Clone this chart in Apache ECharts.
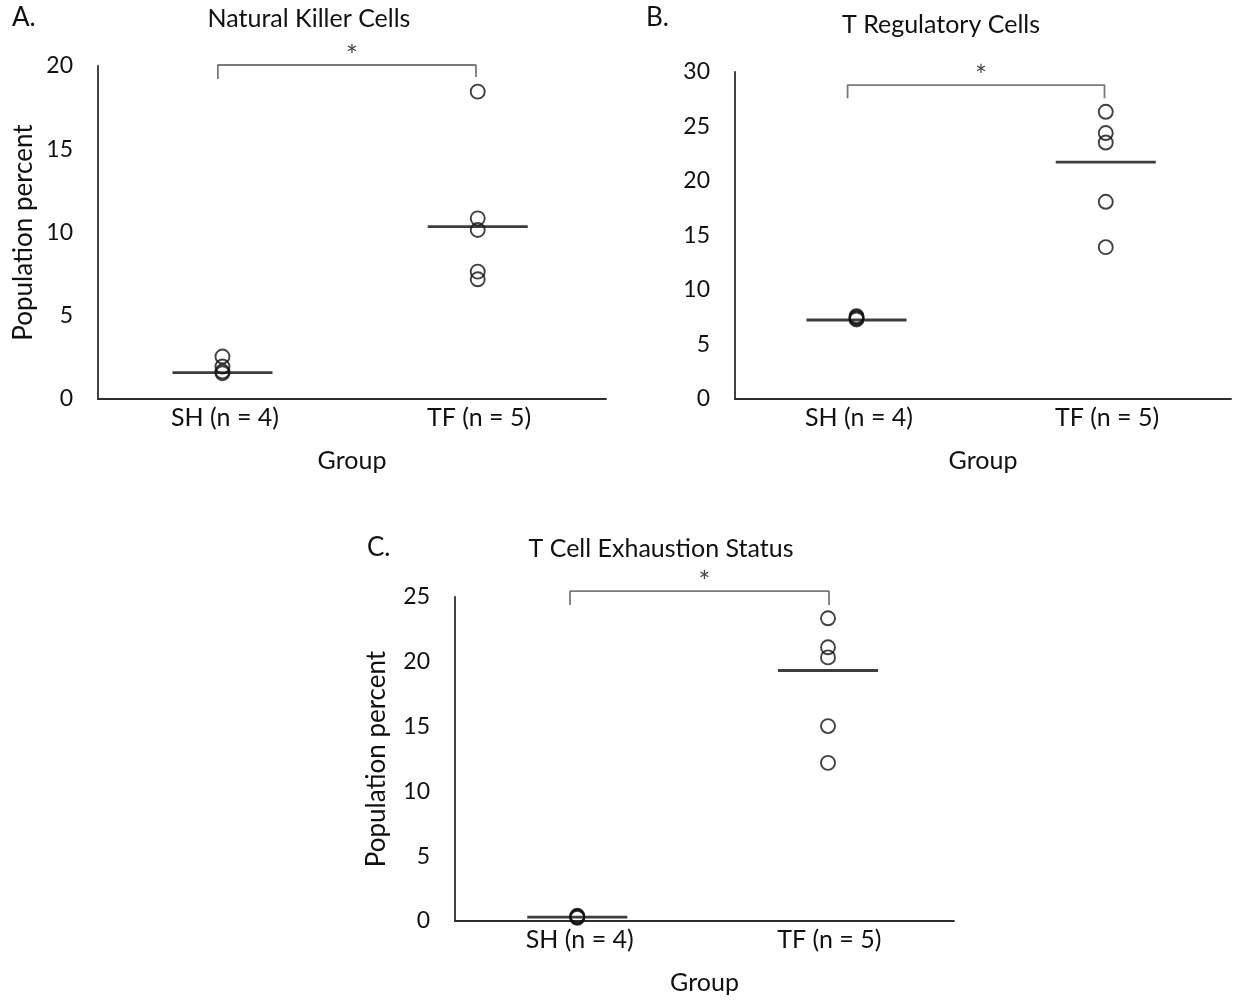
<!DOCTYPE html>
<html>
<head>
<meta charset="utf-8">
<script src="https://cdn.jsdelivr.net/npm/echarts@6/dist/echarts.min.js"></script>
<style>
html,body{margin:0;padding:0;background:#fff;}
#c{width:1234px;height:1005px;}
</style>
</head>
<body>
<div id="c"></div>
<script>
// ---- data ----
const categories = ['SH (n = 4)', 'TF (n = 5)'];
const panelTitles = ['Natural Killer Cells', 'T Regulatory Cells', 'T Cell Exhaustion Status'];
const panelLetters = ['A.', 'B.', 'C.'];
const yTicksA = [0, 5, 10, 15, 20];
const yTicksB = [0, 5, 10, 15, 20, 25, 30];
const yTicksC = [0, 5, 10, 15, 20, 25];

const nkSH = [2.55, 1.95, 1.65, 1.55];
const nkTF = [18.46, 10.85, 10.15, 7.65, 7.19];
const nkLine = [1.58, 10.35];

const tregSH = [7.6, 7.5, 7.4, 7.3];
const tregTF = [26.35, 24.4, 23.53, 18.09, 13.93];
const tregLine = [7.25, 21.73];

const exhSH = [0.4, 0.35, 0.3, 0.25];
const exhTF = [23.36, 21.12, 20.34, 15.04, 12.2];
const exhLine = [0.3, 19.33];

// significance brackets: [leftX, rightX, top, leftBottom, rightBottom]
const bracketA = [0.472, 1.488, 20.06, 19.22, 19.34];
const bracketB = [0.454, 1.49, 28.8, 27.6, 27.6];
const bracketC = [0.461, 1.499, 25.46, 24.38, 24.38];
const starLabel = '*';
const groupPos = [0.49, 1.495];

// ---- build ----
const FONT = 'Lato';
const TXT = '#111111';
const AX = '#2e2e2e';

function xAxisDef(gi) {
  return {
    gridIndex: gi, type: 'value', min: 0, max: 2, interval: 0.5,
    axisLine: {show: true, lineStyle: {color: AX, width: 1.8}},
    axisTick: {show: false}, splitLine: {show: false},
    axisLabel: {
      fontFamily: FONT, fontSize: 25, color: TXT, margin: 6,
      formatter: v => Math.abs(v - 0.5) < 1e-6 ? categories[0] : (Math.abs(v - 1.5) < 1e-6 ? categories[1] : '')
    },
    name: 'Group', nameLocation: 'middle', nameGap: 49,
    nameTextStyle: {fontFamily: FONT, fontSize: 25, color: TXT}
  };
}
function yAxisDef(gi, ticks, withName) {
  return {
    gridIndex: gi, type: 'value', min: ticks[0], max: ticks[ticks.length - 1], interval: ticks[1] - ticks[0],
    axisLine: {show: true, lineStyle: {color: AX, width: 1.8}},
    axisTick: {show: false}, splitLine: {show: false},
    axisLabel: {fontFamily: FONT, fontSize: 23, color: TXT, margin: 25},
    name: withName ? 'Population percent' : '', nameLocation: 'middle', nameGap: withName[1] || 60,
    nameTextStyle: {fontFamily: FONT, fontSize: 26, color: TXT}
  };
}
function pointsSeries(gi, sh, tf) {
  const d = sh.map(v => [groupPos[0], v]).concat(tf.map(v => [groupPos[1], v]));
  return {
    type: 'scatter', xAxisIndex: gi, yAxisIndex: gi, data: d, symbol: 'circle', symbolSize: 14,
    itemStyle: {color: 'rgba(0,0,0,0)', borderColor: '#111111', borderWidth: 1.9}, z: 5, silent: true
  };
}
function lineSeries(gi, vals) {
  return {
    type: 'scatter', xAxisIndex: gi, yAxisIndex: gi,
    data: [[groupPos[0], vals[0]], [groupPos[1], vals[1]]],
    symbol: 'rect', symbolSize: [100, 2.8], itemStyle: {color: '#0d0d0d'}, z: 4, silent: true
  };
}
function bracketSeries(gi, b) {
  return {
    type: 'line', xAxisIndex: gi, yAxisIndex: gi, clip: false, symbol: 'none', silent: true,
    data: [[b[0], b[3]], [b[0], b[2]], [b[1], b[2]], [b[1], b[4]]],
    lineStyle: {color: '#7a7a7a', width: 1.8}
  };
}
function starSeries(gi, b) {
  return {
    type: 'scatter', xAxisIndex: gi, yAxisIndex: gi, clip: false, silent: true,
    data: [[(b[0] + b[1]) / 2 + 0.02, b[2]]], symbolSize: 0,
    label: {show: true, formatter: starLabel, position: 'top', distance: -6, fontFamily: FONT, fontSize: 28, color: TXT}
  };
}

const grids = [
  {left: 98, top: 66, width: 508, height: 333},
  {left: 735, top: 72, width: 500, height: 327},
  {left: 455, top: 597, width: 499, height: 324}
];

const option = {
  backgroundColor: '#ffffff',
  animation: false,
  grid: grids,
  xAxis: [xAxisDef(0), xAxisDef(1), xAxisDef(2)],
  yAxis: [
    yAxisDef(0, yTicksA, [true, 61]),
    yAxisDef(1, yTicksB, false),
    yAxisDef(2, yTicksC, [true, 65])
  ],
  series: [
    pointsSeries(0, nkSH, nkTF), lineSeries(0, nkLine), bracketSeries(0, bracketA), starSeries(0, bracketA),
    pointsSeries(1, tregSH, tregTF), lineSeries(1, tregLine), bracketSeries(1, bracketB), starSeries(1, bracketB),
    pointsSeries(2, exhSH, exhTF), lineSeries(2, exhLine), bracketSeries(2, bracketC), starSeries(2, bracketC)
  ],
  graphic: [
    {type: 'text', left: 12, top: 5, style: {text: panelLetters[0], font: '26px Lato', fill: TXT}},
    {type: 'text', left: 646, top: 5, style: {text: panelLetters[1], font: '26px Lato', fill: TXT}},
    {type: 'text', left: 367, top: 535, style: {text: panelLetters[2], font: '26px Lato', fill: TXT}},
    {type: 'text', x: 309, y: 19, style: {text: panelTitles[0], font: '25px Lato', fill: TXT, textAlign: 'center', textVerticalAlign: 'middle'}},
    {type: 'text', x: 941, y: 25, style: {text: panelTitles[1], font: '25px Lato', fill: TXT, textAlign: 'center', textVerticalAlign: 'middle'}},
    {type: 'text', x: 661, y: 549, style: {text: panelTitles[2], font: '25px Lato', fill: TXT, textAlign: 'center', textVerticalAlign: 'middle'}}
  ]
};

const chart = echarts.init(document.getElementById('c'), null, {renderer: 'canvas'});
chart.setOption(option);
</script>
</body>
</html>
